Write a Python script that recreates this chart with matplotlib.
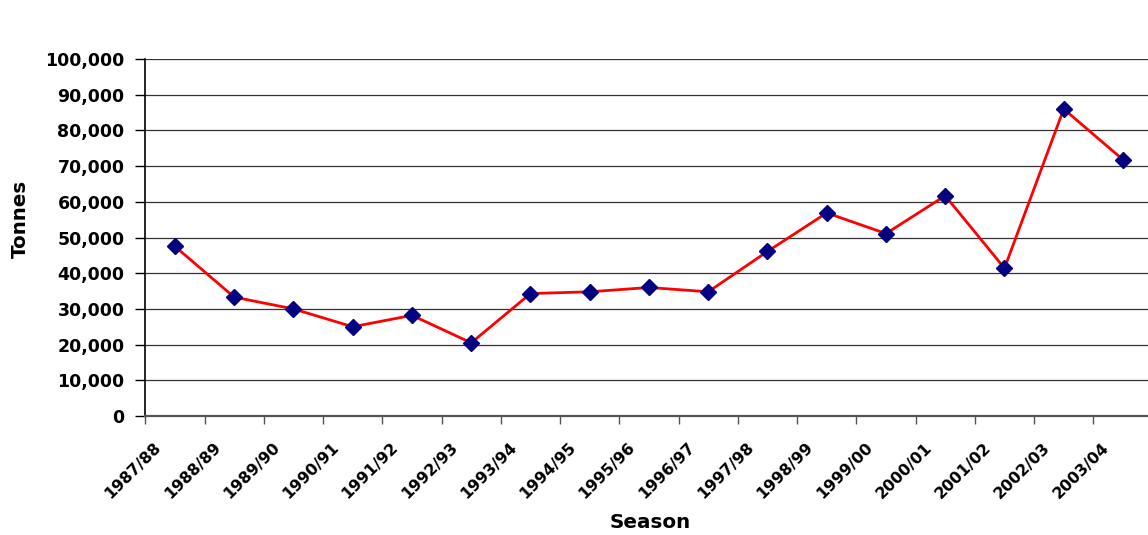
import numpy as np
import matplotlib
matplotlib.use("Agg")
import matplotlib.pyplot as plt
from matplotlib.ticker import FuncFormatter, FixedLocator

# Season tonnage
seasons = ["1987/88", "1988/89", "1989/90", "1990/91", "1991/92", "1992/93",
           "1993/94", "1994/95", "1995/96", "1996/97", "1997/98", "1998/99",
           "1999/00", "2000/01", "2001/02", "2002/03", "2003/04"]
tonnes = [47500, 33300, 30000, 25000, 28200, 20500, 34300, 34800, 36000,
          34800, 46100, 56900, 51100, 61700, 41400, 86000, 71800]
y_ticks = list(range(0, 100001, 10000))

plt.rcParams["font.family"] = "DejaVu Sans"
plt.rcParams["font.weight"] = "bold"

fig = plt.figure(figsize=(11.48, 5.35), dpi=100)
ax = fig.add_axes([0.1266, 0.2224, 0.8774, 0.6673])

x = np.arange(len(seasons))
ax.plot(x, tonnes, color="#ff0000", lw=2, zorder=3)
ax.plot(x, tonnes, linestyle="none", marker="D", markersize=8.5,
        markerfacecolor="#000080", markeredgecolor="#000080", zorder=4)

ax.set_xlim(-0.5, len(seasons) - 0.5)
ax.set_ylim(0, 100000)

# gridlines
ax.set_yticks(y_ticks)
ax.yaxis.set_major_formatter(FuncFormatter(lambda v, p: f"{int(v):,}"))
ax.grid(axis="y", color="#333333", lw=0.9, zorder=1)
ax.set_axisbelow(True)

# tick marks at category boundaries, labels shifted a bit left of the points
ax.xaxis.set_minor_locator(FixedLocator(x - 0.5))
ax.set_xticks(x - 0.27)
ax.set_xticklabels(seasons, rotation=45, ha="right", va="center",
                   rotation_mode="anchor", fontsize=11.4, fontweight="bold")
ax.tick_params(axis="x", which="major", length=0, pad=21)
ax.tick_params(axis="x", which="minor", length=6, width=1, color="#555555")
ax.tick_params(axis="y", length=7, width=1, pad=8, labelsize=12.5)

for s in ["top", "right"]:
    ax.spines[s].set_visible(False)
ax.spines["left"].set_color("black")
ax.spines["left"].set_linewidth(1.2)
ax.spines["bottom"].set_color("#555555")
ax.spines["bottom"].set_linewidth(1.6)

fig.text(0.5662, 0.024, "Season", ha="center", va="center",
         fontsize=14.3, fontweight="bold")
fig.text(0.018, 0.59, "Tonnes", ha="center", va="center", rotation=90,
         fontsize=14.3, fontweight="bold")

fig.savefig("out.png", dpi=100)
